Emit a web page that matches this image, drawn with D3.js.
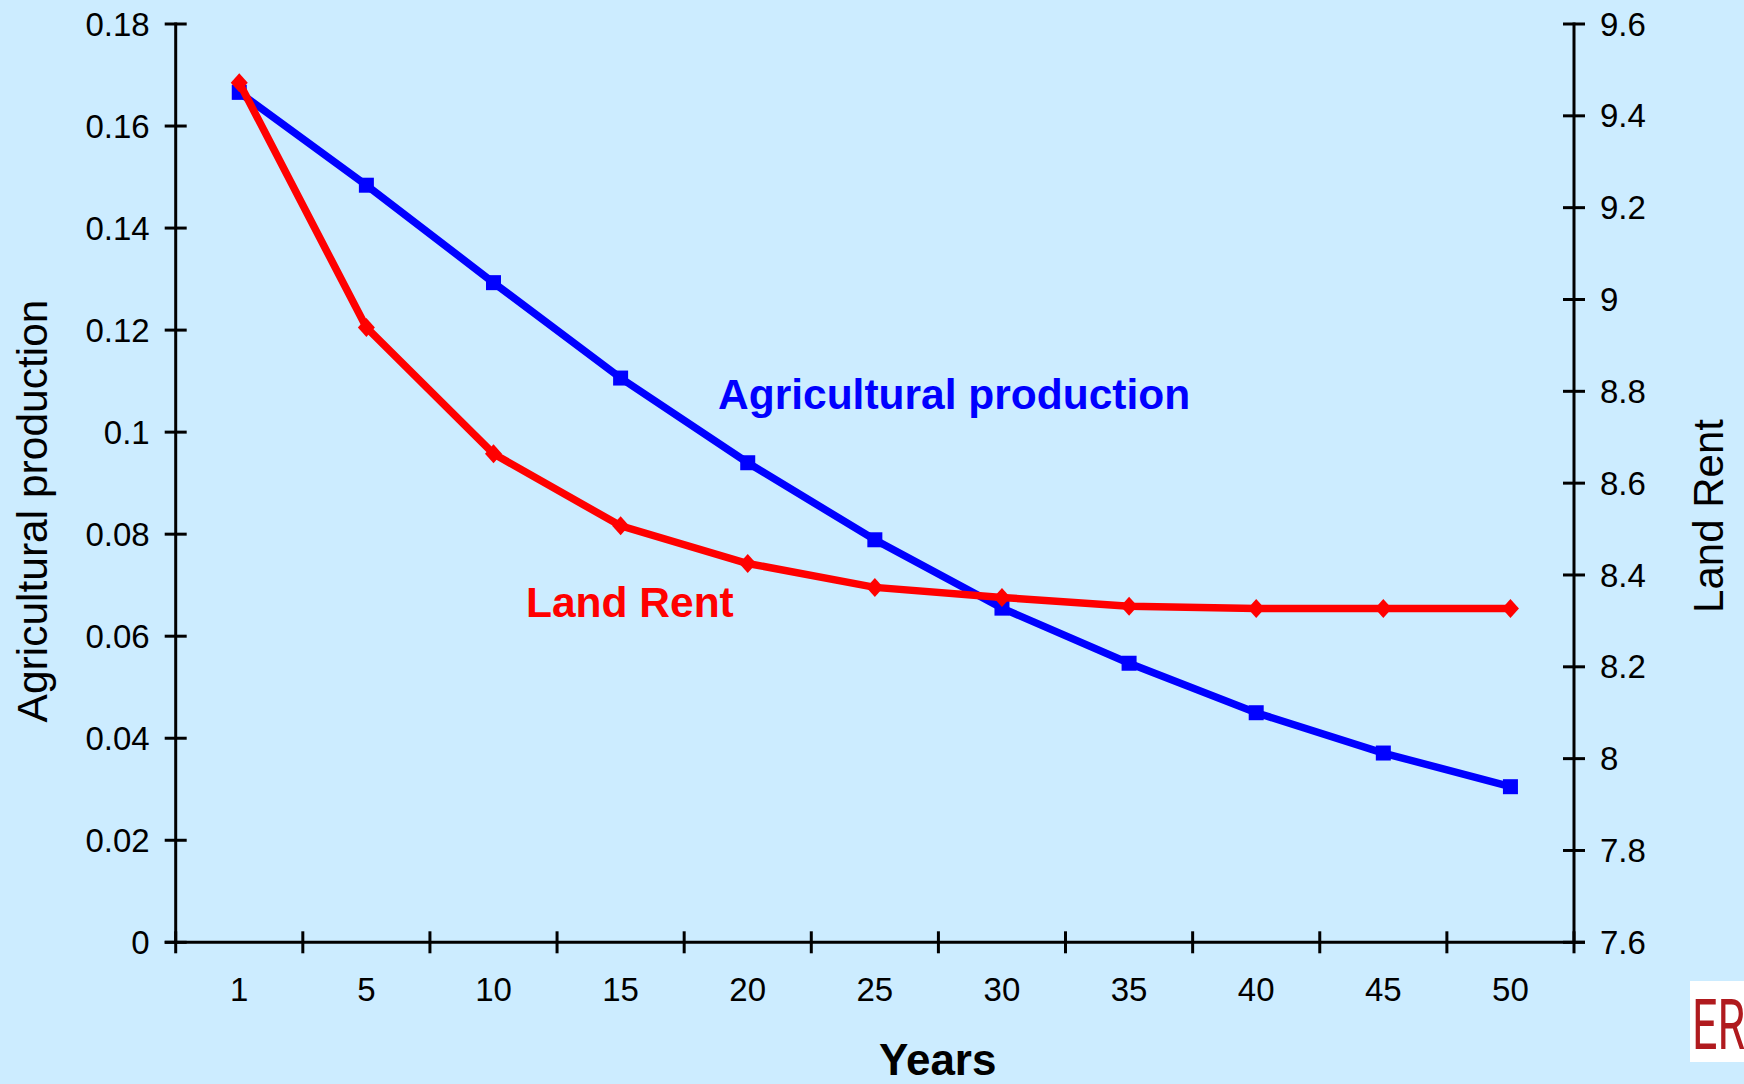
<!DOCTYPE html>
<html>
<head>
<meta charset="utf-8">
<script src="https://cdn.jsdelivr.net/npm/d3@7/dist/d3.min.js"></script>
<style>
  html, body { margin: 0; padding: 0; background: #CCECFF; overflow: hidden; }
  svg { display: block; }
  text { font-family: "Liberation Sans", Arial, sans-serif; fill: #000; }
</style>
</head>
<body>
<svg id="chart" width="1744" height="1084"></svg>
<script>
// Years shown on the category axis
const years = ["1", "5", "10", "15", "20", "25", "30", "35", "40", "45", "50"];

// Agricultural production (left axis)
const agricultural = [0.1666, 0.1484, 0.1293, 0.1106, 0.0940, 0.0789, 0.0655, 0.0547, 0.0450, 0.0371, 0.0305];

// Land rent (right axis)
const landRent = [9.472, 8.939, 8.664, 8.507, 8.425, 8.373, 8.351, 8.332, 8.327, 8.327, 8.327];

// Axis tick values and their labels
const leftTicks = [0, 0.02, 0.04, 0.06, 0.08, 0.1, 0.12, 0.14, 0.16, 0.18];
const leftTickLabels = ["0", "0.02", "0.04", "0.06", "0.08", "0.1", "0.12", "0.14", "0.16", "0.18"];
const rightTicks = [7.6, 7.8, 8, 8.2, 8.4, 8.6, 8.8, 9, 9.2, 9.4, 9.6];
const rightTickLabels = ["7.6", "7.8", "8", "8.2", "8.4", "8.6", "8.8", "9", "9.2", "9.4", "9.6"];

const svg = d3.select("#chart");
const W = 1744, H = 1084;

// plot frame
const plot = { left: 175.7, right: 1574, top: 24, bottom: 942.3 };
const TICK = 11;

svg.append("rect").attr("width", W).attr("height", H).attr("fill", "#CCECFF");

const x = d3.scaleBand().domain(years).range([plot.left, plot.right]).paddingInner(0).paddingOuter(0);
const xc = d => x(d) + x.bandwidth() / 2;
const yL = d3.scaleLinear().domain([0, 0.18]).range([plot.bottom, plot.top]);
const yR = d3.scaleLinear().domain([7.6, 9.6]).range([plot.bottom, plot.top]);

const axes = svg.append("g").attr("stroke", "#000").attr("stroke-width", 3);

// left value axis
axes.append("line").attr("x1", plot.left).attr("x2", plot.left)
  .attr("y1", yL(0.18) - 1.5).attr("y2", yL(0));
axes.selectAll("line.lt").data(leftTicks).join("line").attr("class", "lt")
  .attr("x1", plot.left - TICK).attr("x2", plot.left + TICK)
  .attr("y1", d => yL(d)).attr("y2", d => yL(d));

// right value axis
axes.append("line").attr("x1", plot.right).attr("x2", plot.right)
  .attr("y1", yR(9.6) - 1.5).attr("y2", yR(7.6));
axes.selectAll("line.rt").data(rightTicks).join("line").attr("class", "rt")
  .attr("x1", plot.right - TICK).attr("x2", plot.right + TICK)
  .attr("y1", d => yR(d)).attr("y2", d => yR(d));

// category axis with ticks between categories
axes.append("line").attr("x1", plot.left - TICK).attr("x2", plot.right + TICK)
  .attr("y1", plot.bottom).attr("y2", plot.bottom);
const boundaries = years.map(d => x(d)).concat([x(years[years.length - 1]) + x.bandwidth()]);
axes.selectAll("line.xt").data(boundaries).join("line").attr("class", "xt")
  .attr("x1", d => d).attr("x2", d => d)
  .attr("y1", plot.bottom - TICK).attr("y2", plot.bottom + TICK);

// tick labels
const lab = svg.append("g").attr("font-size", 33);
lab.selectAll("text.ll").data(leftTicks).join("text").attr("class", "ll")
  .attr("x", plot.left - TICK - 15).attr("y", d => yL(d)).attr("dy", "0.35em")
  .attr("text-anchor", "end").text((d, i) => leftTickLabels[i]);
lab.selectAll("text.rl").data(rightTicks).join("text").attr("class", "rl")
  .attr("x", plot.right + TICK + 15).attr("y", d => yR(d)).attr("dy", "0.35em")
  .attr("text-anchor", "start").text((d, i) => rightTickLabels[i]);
lab.selectAll("text.xl").data(years).join("text").attr("class", "xl")
  .attr("x", d => xc(d)).attr("y", 1001)
  .attr("text-anchor", "middle").text(d => d);

// axis titles
svg.append("text").attr("transform", "translate(47,511) rotate(-90)")
  .attr("text-anchor", "middle").attr("font-size", 42.5).text("Agricultural production");
svg.append("text").attr("transform", "translate(1723,516) rotate(-90)")
  .attr("text-anchor", "middle").attr("font-size", 42).text("Land Rent");
svg.append("text").attr("x", 879).attr("y", 1075)
  .attr("font-size", 44).attr("font-weight", "bold").text("Years");

// series: agricultural production
const lineL = d3.line().x((d, i) => xc(years[i])).y(d => yL(d));
svg.append("path").datum(agricultural).attr("d", lineL)
  .attr("fill", "none").attr("stroke", "#0000FF").attr("stroke-width", 7.5)
  .attr("stroke-linejoin", "miter");
const SQ = 15;
svg.append("g").selectAll("rect").data(agricultural).join("rect")
  .attr("x", (d, i) => xc(years[i]) - SQ / 2).attr("y", d => yL(d) - SQ / 2)
  .attr("width", SQ).attr("height", SQ).attr("fill", "#0000FF");

// series: land rent
const lineR = d3.line().x((d, i) => xc(years[i])).y(d => yR(d));
svg.append("path").datum(landRent).attr("d", lineR)
  .attr("fill", "none").attr("stroke", "#FF0000").attr("stroke-width", 7.5)
  .attr("stroke-linejoin", "miter");
const DW = 8.5, DH = 9.5;
svg.append("g").selectAll("path").data(landRent).join("path")
  .attr("transform", (d, i) => `translate(${xc(years[i])},${yR(d)})`)
  .attr("d", `M0,${-DH}L${DW},0L0,${DH}L${-DW},0Z`).attr("fill", "#FF0000");

// series labels inside the plot
svg.append("text").attr("x", 718).attr("y", 409)
  .attr("font-size", 42.5).attr("font-weight", "bold").style("fill", "#0000FF")
  .text("Agricultural production");
svg.append("text").attr("x", 526).attr("y", 617)
  .attr("font-size", 42.5).attr("font-weight", "bold").style("fill", "#FF0000")
  .text("Land Rent");

// corner badge, running off the right edge
svg.append("rect").attr("x", 1690).attr("y", 981).attr("width", 60).attr("height", 81).attr("fill", "#FFFFFF");
svg.append("text").attr("transform", "translate(1692,1049) scale(0.64,1)")
  .attr("font-size", 70)
  .style("fill", "#B01A1E").style("font-family", "Roboto, sans-serif").text("ER");
</script>
</body>
</html>
